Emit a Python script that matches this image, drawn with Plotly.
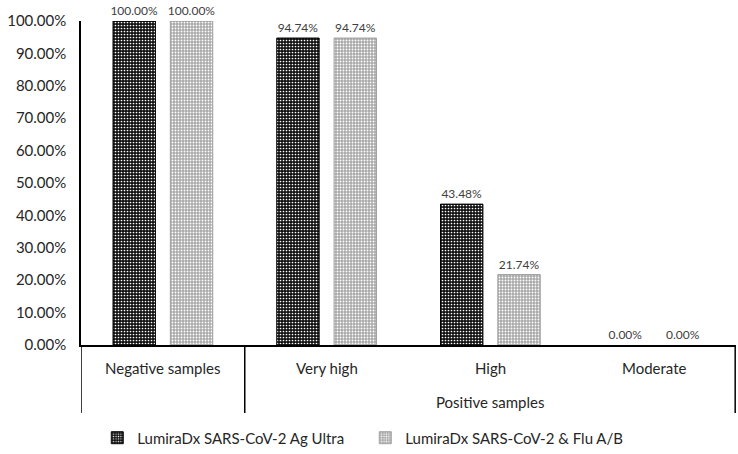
import plotly.graph_objects as go

categories = ["Negative samples", "Very high", "High", "Moderate"]
group_label = "Positive samples"
series_names = ["LumiraDx SARS-CoV-2 Ag Ultra", "LumiraDx SARS-CoV-2 & Flu A/B"]
ultra_values = [1.0, 0.9474, 0.4348, 0.0]
flu_values = [1.0, 0.9474, 0.2174, 0.0]
y_ticks = [i / 10 for i in range(11)]

FONT = "Lato, Liberation Sans, Arial"
TXT = "#262626"

x = list(range(len(categories)))
fig = go.Figure()
fig.add_trace(go.Bar(
    x=x, y=ultra_values, name=series_names[0],
    marker=dict(color="black", line=dict(color="black", width=[1 if v > 0 else 0 for v in ultra_values]),
                pattern=dict(shape=".", fgcolor="white", bgcolor="#111111",
                             size=3, solidity=0.25, fillmode="replace")),
    texttemplate="%{y:.2%}", textposition="outside", cliponaxis=False, constraintext="none",
    textfont=dict(size=12, color="#404040", family=FONT),
))
fig.add_trace(go.Bar(
    x=x, y=flu_values, name=series_names[1],
    marker=dict(color="#b5b5b5", line=dict(color="#a0a0a0", width=[1 if v > 0 else 0 for v in flu_values]),
                pattern=dict(shape=".", fgcolor="white", bgcolor="#a8a8a8",
                             size=3, solidity=0.3, fillmode="replace")),
    texttemplate="%{y:.2%}", textposition="outside", cliponaxis=False, constraintext="none",
    textfont=dict(size=12, color="#404040", family=FONT),
))

fig.update_layout(
    width=738, height=454,
    margin=dict(l=81, r=2, t=21, b=109, autoexpand=False),
    plot_bgcolor="white", paper_bgcolor="white",
    barmode="group", bargap=0.30, bargroupgap=0.26,
    font=dict(family=FONT, size=15, color=TXT),
    showlegend=True,
    legend=dict(orientation="h", x=0.434, xanchor="center", y=-0.236, yanchor="top",
                font=dict(size=15, color=TXT, family=FONT), itemwidth=30,
                entrywidth=223, tracegroupgap=0),
)
fig.update_xaxes(range=[-0.5, 3.5], showticklabels=False, ticks="", showgrid=False,
                 zeroline=False, showline=True, linecolor="black", linewidth=1.5)
fig.update_yaxes(range=[0, 1.0], tickvals=y_ticks, tickformat=".2%", showgrid=False,
                 zeroline=False, showline=True, linecolor="black", linewidth=1.5,
                 ticks="", ticklabelstandoff=10, automargin=False,
                 tickfont=dict(size=15, color=TXT))

# multi-level category axis drawn below the plot
div_bottom = -68 / 324
for xp in [-0.5, 0.5, 3.495]:
    fig.add_shape(type="line", xref="x", yref="paper", x0=xp, x1=xp, y0=0, y1=div_bottom,
                  line=dict(color="black", width=1.5))
for i, c in enumerate(categories):
    fig.add_annotation(x=i, xref="x", y=-23 / 324, yref="paper", text=c, showarrow=False,
                       yanchor="middle", font=dict(size=15, color=TXT, family=FONT))
fig.add_annotation(x=2, xref="x", y=-57 / 324, yref="paper", text=group_label, showarrow=False,
                   yanchor="middle", font=dict(size=15, color=TXT, family=FONT))

fig.write_html("out.html", config={"displayModeBar": False},
               post_script="document.body.style.margin='0px';document.body.style.overflow='hidden';")
